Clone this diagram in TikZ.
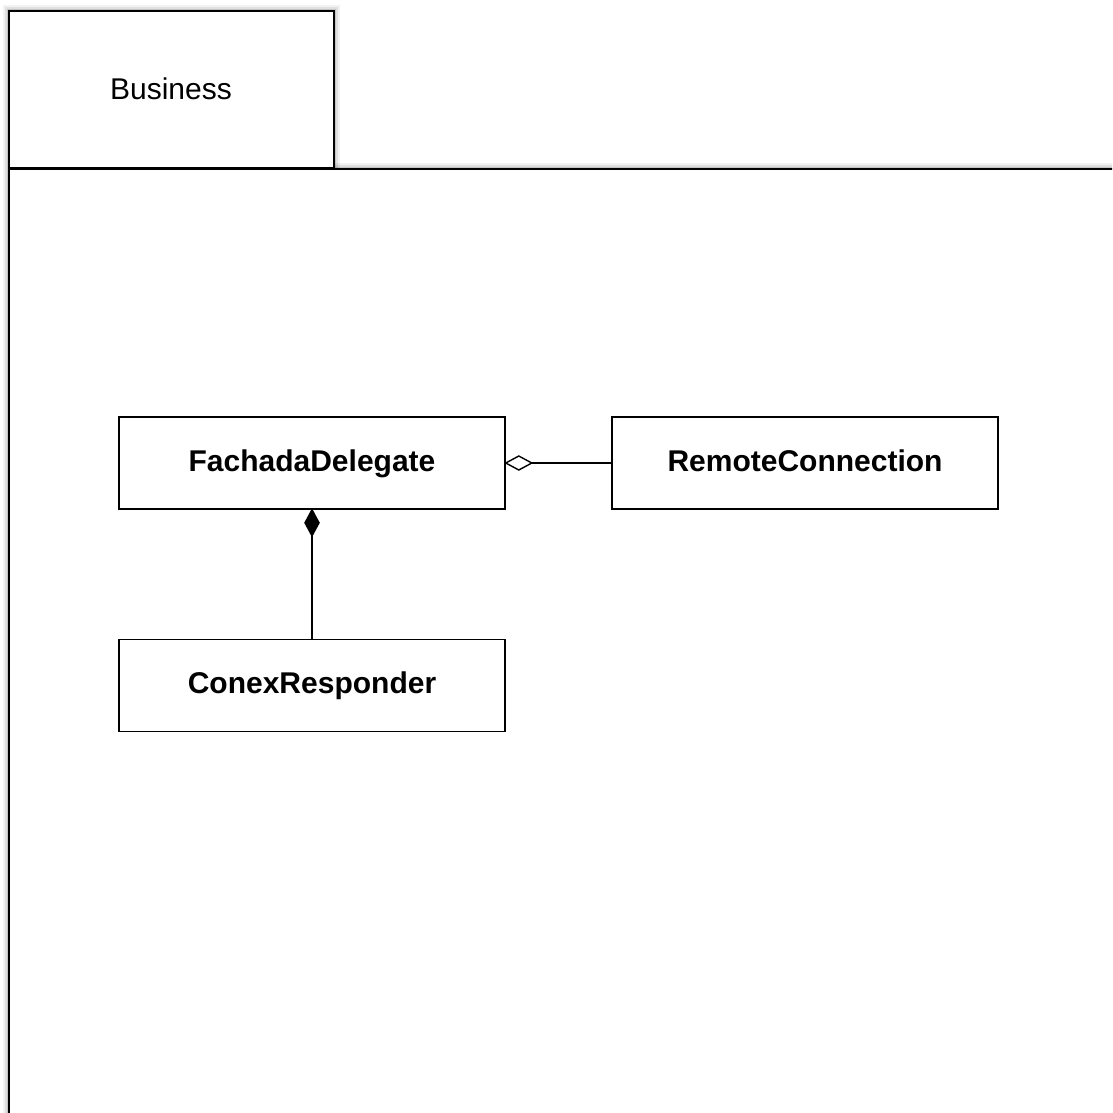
\documentclass[tikz,border=0pt]{standalone}
\usepackage{fontspec}
\setmainfont{Liberation Sans}
\begin{document}
\begin{tikzpicture}[x=1pt,y=-1pt,
  classbox/.style={draw=black, line width=1.6pt, fill=white, minimum width=386pt, minimum height=92pt,
    inner sep=0pt, text height=22pt, text depth=6pt, font=\fontsize{30}{36}\selectfont\bfseries},
  frameline/.style={draw=black, line width=2.2pt},
  assoc/.style={draw=black, line width=1.6pt},
  hollowdia/.style={draw=black, line width=1.4pt, fill=white},
  soliddia/.style={draw=black, line width=1.4pt, fill=black}]
  \useasboundingbox (0,0) rectangle (1112,1113);
  \fill[white] (0,0) rectangle (1112,1113);
  \clip (0,0) rectangle (1112,1113);
  % soft shadow around the tab and the package body
  \foreach \d/\o in {6/0.05,4/0.08,2/0.12}{
    \fill[black, opacity=\o] (9-\d,11-\d) rectangle (334+\d,168);
    \fill[black, opacity=\o] (9-\d,168) rectangle (9,1120);
    \fill[black, opacity=\o] (334,169-\d) rectangle (1120,169);
  }
  % package tab and body
  \path[frameline, fill=white] (9,11) rectangle (334,168);
  \path[frameline, fill=white] (9,169) rectangle (1130,1125);
  \node (pkg) at (171,89) {\fontsize{30}{36}\selectfont Business};
  % classes
  \node[classbox] (fd) at (312,463) {FachadaDelegate};
  \node[classbox] (rc) at (805,463) {RemoteConnection};
  \node[classbox] (cr) at (312,685.5) {ConexResponder};
  % aggregation: RemoteConnection -> FachadaDelegate (hollow diamond)
  \coordinate (ha) at ([xshift=26pt]fd.east);
  \draw[assoc] (rc.west) -- (ha);
  \draw[hollowdia] (fd.east) -- ([xshift=13pt,yshift=-7pt]fd.east) -- (ha) -- ([xshift=13pt,yshift=7pt]fd.east) -- cycle;
  % composition: ConexResponder -> FachadaDelegate (filled diamond)
  \coordinate (sa) at ([yshift=-26pt]fd.south);
  \draw[assoc] (cr.north) -- (sa);
  \draw[soliddia] (fd.south) -- ([xshift=-7pt,yshift=-13pt]fd.south) -- (sa) -- ([xshift=7pt,yshift=-13pt]fd.south) -- cycle;
\end{tikzpicture}
\end{document}
